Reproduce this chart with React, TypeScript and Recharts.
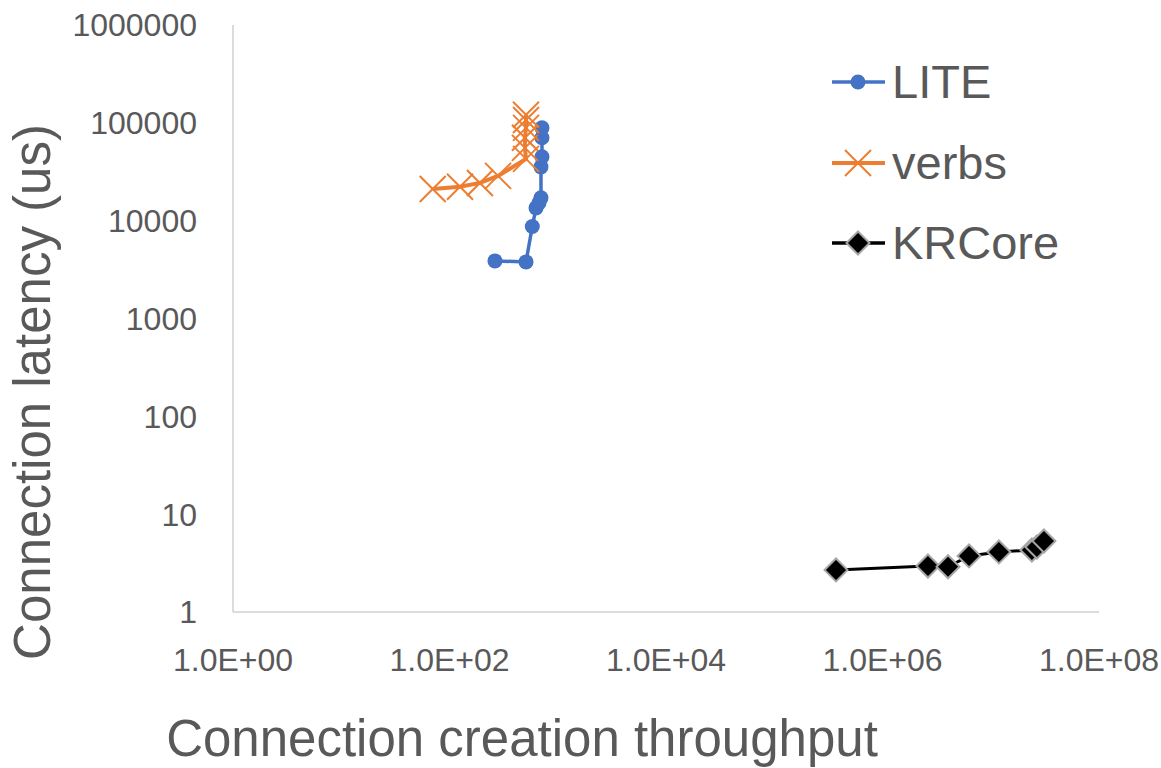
import React from 'react';
import { ScatterChart, Scatter, XAxis, YAxis, Legend, Label } from 'recharts';

const FONT = '"Liberation Sans", Arial, Helvetica, sans-serif';
const TEXT = '#595959';

const seriesNames = ['LITE', 'verbs', 'KRCore'];
const seriesColors = ['#4472C4', '#ED7D31', '#000000'];

const liteX = [263, 509, 582, 630, 671, 700, 700, 715, 715, 715];
const liteY = [3880, 3790, 8710, 13500, 15200, 17100, 35500, 44900, 70300, 88900];

const verbsX = [70, 125, 191, 281, 509, 498, 498, 509, 509, 509];
const verbsY = [21100, 22200, 24300, 28700, 42800, 55500, 70300, 88900, 107000, 121000];

const krcoreX = [372000, 2630000, 4030000, 6300000, 11900000, 24000000, 26700000, 31000000];
const krcoreY = [2.69, 2.95, 2.9, 3.74, 4.11, 4.3, 4.62, 5.32];

const xTicks = [1, 100, 10000, 1000000, 100000000];
const xTickLabels = ['1.0E+00', '1.0E+02', '1.0E+04', '1.0E+06', '1.0E+08'];
const yTicks = [1, 10, 100, 1000, 10000, 100000, 1000000];
const yTickLabels = ['1', '10', '100', '1000', '10000', '100000', '1000000'];

const xTitle = 'Connection creation throughput';
const yTitle = 'Connection latency (us)';

const toPoints = (xs: number[], ys: number[]) => xs.map((x, i) => ({ x, y: ys[i] }));
const liteData = toPoints(liteX, liteY);
const verbsData = toPoints(verbsX, verbsY);
const krcoreData = toPoints(krcoreX, krcoreY);

const Circle = (p: any) => <circle cx={p.cx} cy={p.cy} r={7.5} fill="#4472C4" />;
const Cross = (p: any) => (
  <g stroke="#ED7D31" strokeWidth={2}>
    <line x1={p.cx - 13} y1={p.cy - 13} x2={p.cx + 13} y2={p.cy + 13} />
    <line x1={p.cx - 13} y1={p.cy + 13} x2={p.cx + 13} y2={p.cy - 13} />
  </g>
);
const Diamond = (p: any) => (
  <polygon
    points={`${p.cx},${p.cy - 11.5} ${p.cx + 11.5},${p.cy} ${p.cx},${p.cy + 11.5} ${p.cx - 11.5},${p.cy}`}
    fill="#000"
    stroke="#a6a6a6"
    strokeWidth={2}
  />
);

const LegendIcon = ({ i }: { i: number }) => {
  const cx = 26, cy = 20;
  return (
    <svg width={54} height={40} style={{ display: 'block' }}>
      <line x1={0} y1={cy} x2={53} y2={cy} stroke={seriesColors[i]} strokeWidth={i === 1 ? 4 : 3.5} />
      {i === 0 && <Circle cx={cx} cy={cy} />}
      {i === 1 && <Cross cx={cx} cy={cy} />}
      {i === 2 && <Diamond cx={cx} cy={cy} />}
    </svg>
  );
};

const renderLegend = () => (
  <div style={{ fontFamily: FONT, color: TEXT }}>
    {seriesNames.map((name, i) => (
      <div key={name} style={{ display: 'flex', alignItems: 'center', height: 80.5 }}>
        <LegendIcon i={i} />
        <span style={{ fontSize: 47, marginLeft: 6, lineHeight: '80px' }}>{name}</span>
      </div>
    ))}
  </div>
);

export default function App() {
  return (
    <div style={{ width: 1161, height: 768, overflow: 'hidden' }}>
      <style>{'html,body{margin:0;padding:0;overflow:hidden}.recharts-surface{display:block}'}</style>
      <ScatterChart width={1161} height={768} margin={{ top: 25, right: 62, bottom: 0, left: 0 }}>
        <XAxis
          dataKey="x"
          type="number"
          scale="log"
          domain={[1, 100000000]}
          ticks={xTicks}
          allowDataOverflow
          interval={0}
          height={156}
          tickLine={false}
          tickSize={0}
          tickMargin={36}
          axisLine={{ stroke: '#d0d0d0', strokeWidth: 1.5 }}
          tick={{ fill: TEXT, fontSize: 32, fontFamily: FONT }}
          tickFormatter={(v: number) => xTickLabels[xTicks.indexOf(v)] ?? String(v)}
        >
          <Label
            content={() => (
              <text x={522} y={756} textAnchor="middle" fill={TEXT} fontSize={51} fontFamily={FONT}>
                {xTitle}
              </text>
            )}
          />
        </XAxis>
        <YAxis
          dataKey="y"
          type="number"
          scale="log"
          domain={[1, 1000000]}
          ticks={yTicks}
          allowDataOverflow
          interval={0}
          width={233}
          tickLine={false}
          tickSize={0}
          tickMargin={36}
          axisLine={{ stroke: '#d0d0d0', strokeWidth: 1.5 }}
          tick={{ fill: TEXT, fontSize: 32, fontFamily: FONT }}
          tickFormatter={(v: number) => yTickLabels[yTicks.indexOf(v)] ?? String(v)}
        >
          <Label
            content={() => (
              <text
                x={50}
                y={392}
                textAnchor="middle"
                fill={TEXT}
                fontSize={51}
                fontFamily={FONT}
                transform="rotate(-90, 50, 392)"
              >
                {yTitle}
              </text>
            )}
          />
        </YAxis>
        <Legend
          layout="vertical"
          align="center"
          verticalAlign="middle"
          content={renderLegend}
          wrapperStyle={{ position: 'absolute', left: 832, top: 42, width: 300, height: 'auto' }}
        />
        <Scatter
          name="LITE"
          data={liteData}
          isAnimationActive={false}
          line={{ stroke: '#4472C4', strokeWidth: 3.5 }}
          lineType="joint"
          shape={Circle}
        />
        <Scatter
          name="verbs"
          data={verbsData}
          isAnimationActive={false}
          line={{ stroke: '#ED7D31', strokeWidth: 4 }}
          lineType="joint"
          shape={Cross}
        />
        <Scatter
          name="KRCore"
          data={krcoreData}
          isAnimationActive={false}
          line={{ stroke: '#000000', strokeWidth: 3 }}
          lineType="joint"
          shape={Diamond}
        />
      </ScatterChart>
    </div>
  );
}
